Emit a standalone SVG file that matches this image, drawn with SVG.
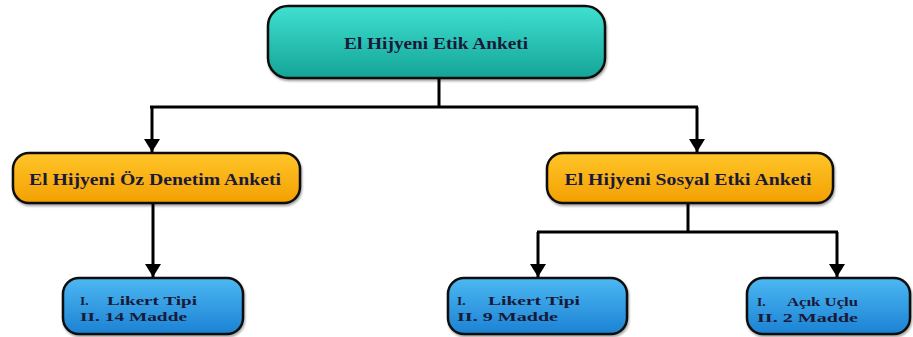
<svg xmlns="http://www.w3.org/2000/svg" width="913" height="337" viewBox="0 0 913 337">
<style>
.box{stroke:#111;stroke-width:2.5}
.t{font-family:"Liberation Serif","Times New Roman",serif;font-weight:bold;fill:#1a1a38}
.c{stroke:#000;stroke-width:3;fill:none}
</style>
<defs>
<linearGradient id="gT" x1="0" y1="0" x2="0" y2="1"><stop offset="0" stop-color="#3fe0d0"/><stop offset="1" stop-color="#14a497"/></linearGradient>
<linearGradient id="gO" x1="0" y1="0" x2="0" y2="1"><stop offset="0" stop-color="#ffc52a"/><stop offset="1" stop-color="#f3a000"/></linearGradient>
<linearGradient id="gB" x1="0" y1="0" x2="0" y2="1"><stop offset="0" stop-color="#4cb8f2"/><stop offset="1" stop-color="#1c82d4"/></linearGradient>
<marker id="ah" markerUnits="userSpaceOnUse" markerWidth="14" markerHeight="16" refX="13" refY="8" orient="auto"><path d="M0,0 L13,8 L0,16 Z" fill="#000"/></marker>
<filter id="sh" x="-5%" y="-10%" width="110%" height="130%"><feDropShadow dx="1" dy="2" stdDeviation="1.2" flood-color="#000" flood-opacity="0.35"/></filter>
</defs>
<g id="connectors">
<path class="c" d="M439,78 V107"/>
<path class="c" d="M150,107 H698"/>
<path class="c" d="M152,107 V152" marker-end="url(#ah)"/>
<path class="c" d="M697,107 V152" marker-end="url(#ah)"/>
<path class="c" d="M153,203 V277" marker-end="url(#ah)"/>
<path class="c" d="M688,203 V232"/>
<path class="c" d="M537,232 H838"/>
<path class="c" d="M538,232 V277" marker-end="url(#ah)"/>
<path class="c" d="M837,232 V277" marker-end="url(#ah)"/>
</g>
<g id="n-top">
<rect class="box" x="268" y="6" width="337" height="72" rx="20" fill="url(#gT)" filter="url(#sh)"/>
<text class="t" x="436" y="49" font-size="16.5" text-anchor="middle" textLength="184" lengthAdjust="spacingAndGlyphs">El Hijyeni Etik Anketi</text>
</g>
<g id="n-oz">
<rect class="box" x="13" y="153" width="287" height="50" rx="16" fill="url(#gO)" filter="url(#sh)"/>
<text class="t" x="155" y="185" font-size="16.5" text-anchor="middle" textLength="252" lengthAdjust="spacingAndGlyphs">El Hijyeni Öz Denetim Anketi</text>
</g>
<g id="n-sosyal">
<rect class="box" x="547" y="153" width="286" height="50" rx="16" fill="url(#gO)" filter="url(#sh)"/>
<text class="t" x="688" y="185" font-size="16.5" text-anchor="middle" textLength="247" lengthAdjust="spacingAndGlyphs">El Hijyeni Sosyal Etki Anketi</text>
</g>
<g id="n-b1">
<rect class="box" x="63" y="278" width="180" height="56" rx="16" fill="url(#gB)" filter="url(#sh)"/>
<text class="t" font-size="13.5"><tspan x="80" y="305">I.</tspan><tspan x="107" y="305" textLength="90" lengthAdjust="spacingAndGlyphs">Likert Tipi</tspan></text>
<text class="t" font-size="13.5" x="80" y="321" textLength="107" lengthAdjust="spacingAndGlyphs">II. 14 Madde</text>
</g>
<g id="n-b2">
<rect class="box" x="448" y="278" width="179" height="56" rx="16" fill="url(#gB)" filter="url(#sh)"/>
<text class="t" font-size="13.5"><tspan x="457" y="305">I.</tspan><tspan x="488" y="305" textLength="92" lengthAdjust="spacingAndGlyphs">Likert Tipi</tspan></text>
<text class="t" font-size="13.5" x="457" y="321" textLength="101" lengthAdjust="spacingAndGlyphs">II. 9 Madde</text>
</g>
<g id="n-b3">
<rect class="box" x="747" y="278" width="163" height="56" rx="16" fill="url(#gB)" filter="url(#sh)"/>
<text class="t" font-size="13.5"><tspan x="757" y="306">I.</tspan><tspan x="787" y="306" textLength="71" lengthAdjust="spacingAndGlyphs">Açık Uçlu</tspan></text>
<text class="t" font-size="13.5" x="757" y="322" textLength="101" lengthAdjust="spacingAndGlyphs">II. 2 Madde</text>
</g>
</svg>
